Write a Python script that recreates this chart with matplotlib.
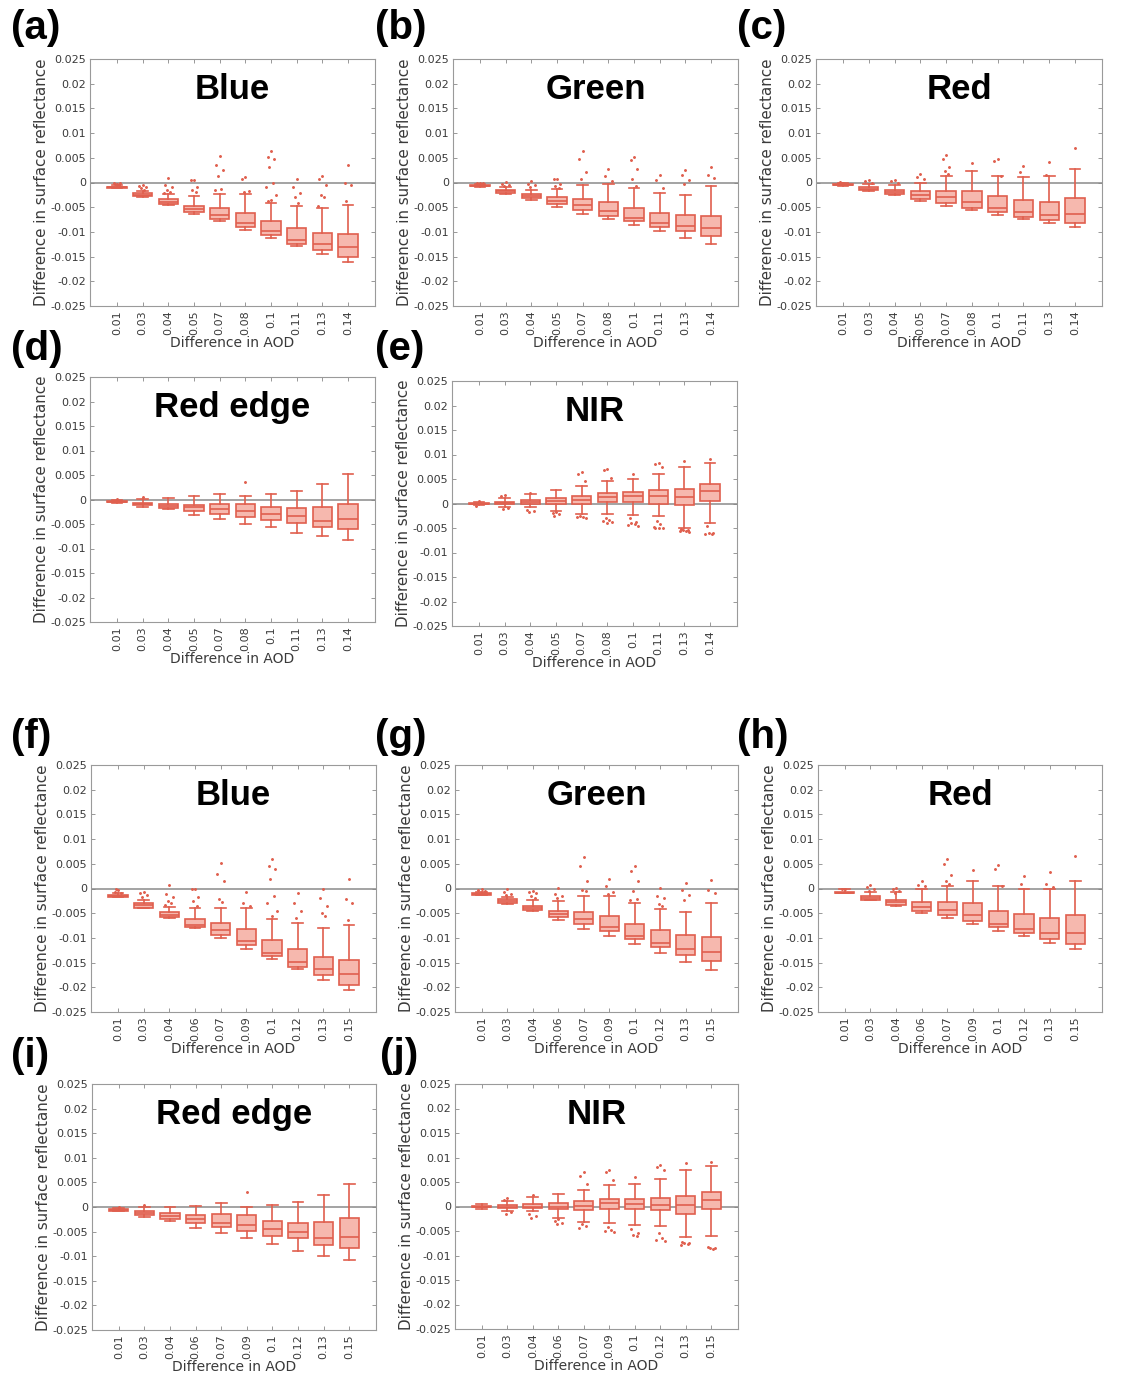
import numpy as np
import matplotlib.pyplot as plt

plt.rcParams['axes.unicode_minus'] = False
plt.rcParams['font.family'] = ['DejaVu Sans']

# x categories (difference in AOD)
aod_top = ['0.01', '0.03', '0.04', '0.05', '0.07', '0.08', '0.1', '0.11', '0.13', '0.14']
aod_bot = ['0.01', '0.03', '0.04', '0.06', '0.07', '0.09', '0.1', '0.12', '0.13', '0.15']
yticks = [0.025, 0.02, 0.015, 0.01, 0.005, 0, -0.005, -0.01, -0.015, -0.02, -0.025]

# box stats per AOD class: (lower whisker, q1, median, q3, upper whisker)
# (a) Blue
a_stats = [(-0.0012, -0.0011, -0.0010, -0.0009, -0.0006), (-0.0029, -0.0028, -0.0025, -0.0022, -0.0017),
           (-0.0046, -0.0043, -0.0039, -0.0034, -0.0023), (-0.0064, -0.0060, -0.0054, -0.0047, -0.0028),
           (-0.0078, -0.0074, -0.0066, -0.0052, -0.0024), (-0.0096, -0.0090, -0.0082, -0.0062, -0.0023),
           (-0.0112, -0.0106, -0.0099, -0.0078, -0.0042), (-0.0128, -0.0124, -0.0116, -0.0093, -0.0048),
           (-0.0144, -0.0136, -0.0125, -0.0102, -0.0052), (-0.0160, -0.0150, -0.0131, -0.0105, -0.0045)]
a_out = [[-0.0003, -0.0002, 0.0, -0.0004, -0.0005], [-0.0005, -0.0007, -0.001, -0.0012, -0.0015],
         [0.001, -0.0005, -0.001, -0.0015, -0.002, -0.0021], [0.0006, 0.0005, -0.001, -0.0015, -0.002],
         [0.0053, 0.0035, 0.0025, 0.0013, -0.0013, -0.0015], [0.0012, 0.0008, -0.0017, -0.002],
         [0.0063, 0.0052, 0.0047, 0.0031, 0.0, -0.001, -0.0025, -0.0035, -0.0038],
         [0.0007, -0.001, -0.0022, -0.003, -0.0042], [0.0014, 0.0007, -0.0005, -0.0025, -0.003, -0.0048],
         [0.0035, 0.0, -0.0005, -0.0037]]

# (b) Green
b_stats = [(-0.0009, -0.0008, -0.0007, -0.0005, -0.0003), (-0.0023, -0.0021, -0.0018, -0.0015, -0.0010),
           (-0.0035, -0.0032, -0.0028, -0.0024, -0.0015), (-0.0049, -0.0044, -0.0038, -0.0030, -0.0014),
           (-0.0063, -0.0055, -0.0046, -0.0033, -0.0005), (-0.0074, -0.0068, -0.0057, -0.0039, -0.0003),
           (-0.0086, -0.0077, -0.0072, -0.0051, -0.0011), (-0.0099, -0.0090, -0.0082, -0.0061, -0.0022),
           (-0.0112, -0.0099, -0.0089, -0.0066, -0.0026), (-0.0124, -0.0108, -0.0092, -0.0067, -0.0007)]
b_out = [[-0.0001, 0.0, -0.0002], [0.0002, -0.0003, -0.0005, -0.0007], [0.0004, -0.0003, -0.0006, -0.001],
         [0.0008, 0.0007, -0.0003, -0.0007, -0.0012], [0.0063, 0.0048, 0.0022, 0.0008],
         [0.0028, 0.0013, 0.0004], [0.0051, 0.0045, 0.0027, 0.0007, -0.0007],
         [0.0015, 0.0005, -0.0012], [0.0026, 0.0015, 0.0005, -0.0003], [0.0032, 0.0016, 0.001]]

# (c) Red
c_stats = [(-0.0007, -0.0006, -0.0005, -0.0003, -0.0002), (-0.0017, -0.0016, -0.0013, -0.0010, -0.0004),
           (-0.0026, -0.0024, -0.0020, -0.0016, -0.0005), (-0.0037, -0.0034, -0.0026, -0.0018, 0.0),
           (-0.0047, -0.0042, -0.0029, -0.0018, 0.0013), (-0.0056, -0.0051, -0.0040, -0.0018, 0.0023),
           (-0.0065, -0.0060, -0.0051, -0.0028, 0.0014), (-0.0074, -0.0070, -0.0060, -0.0035, 0.0012),
           (-0.0082, -0.0075, -0.0066, -0.0039, 0.0013), (-0.0091, -0.0081, -0.0064, -0.0032, 0.0028)]
c_out = [[0.0, 0.0001], [0.0006, 0.0003, 0.0], [0.0006, 0.0004, 0.0], [0.0018, 0.0012, 0.0008],
         [0.0056, 0.0048, 0.0031, 0.0023, 0.0017], [0.0039], [0.0048, 0.0043, 0.0014],
         [0.0034, 0.0022], [0.0042, 0.0016], [0.0069]]

# (d) Red edge
d_stats = [(-0.0007, -0.0006, -0.0005, -0.0003, -0.0002), (-0.0015, -0.0012, -0.0010, -0.0007, 0.0002),
           (-0.0020, -0.0018, -0.0013, -0.0009, 0.0003), (-0.0032, -0.0024, -0.0016, -0.0012, 0.0007),
           (-0.0040, -0.0029, -0.0020, -0.0009, 0.0012), (-0.0049, -0.0036, -0.0023, -0.0010, 0.0008),
           (-0.0057, -0.0042, -0.0029, -0.0016, 0.0012), (-0.0069, -0.0047, -0.0034, -0.0018, 0.0018),
           (-0.0075, -0.0056, -0.0044, -0.0016, 0.0032), (-0.0082, -0.0060, -0.0039, -0.0009, 0.0053)]
d_out = [[0.0001], [0.0005], [], [], [], [0.0035], [], [], [], []]

# (e) NIR
e_stats = [(-0.0004, -0.0002, 0.0, 0.0002, 0.0004), (-0.0007, -0.0002, 0.0002, 0.0004, 0.0012),
           (-0.0008, 0.0, 0.0003, 0.0008, 0.0020), (-0.0015, 0.0, 0.0006, 0.0012, 0.0028),
           (-0.0021, -0.0001, 0.0008, 0.0015, 0.0036), (-0.0021, 0.0003, 0.0013, 0.0022, 0.0046),
           (-0.0023, 0.0004, 0.0015, 0.0023, 0.0051), (-0.0025, 0.0, 0.0016, 0.0027, 0.0060),
           (-0.0050, -0.0003, 0.0014, 0.0030, 0.0074), (-0.0040, 0.0006, 0.0025, 0.0039, 0.0082)]
e_out = [[0.0005, -0.0005], [0.0018, 0.0015, -0.001, -0.0012],
         [0.0022, -0.0013, -0.0015, -0.0018], [-0.0018, -0.002, -0.0022, -0.0025],
         [0.0065, 0.006, 0.0045, -0.0025, -0.0027, -0.0028, -0.003],
         [0.007, 0.0068, 0.0053, -0.003, -0.0033, -0.0035, -0.0037, -0.0039],
         [0.006, -0.003, -0.0038, -0.004, -0.0042, -0.0044, -0.0045],
         [0.0082, 0.008, 0.0075, -0.0035, -0.0042, -0.0048, -0.0049, -0.005, -0.0051],
         [0.0086, -0.0052, -0.0054, -0.0055, -0.0056, -0.0057, -0.0058],
         [0.009, -0.0045, -0.006, -0.0061, -0.0062, -0.0063]]

# (f) Blue
f_stats = [(-0.0017, -0.0017, -0.0015, -0.0013, -0.0010), (-0.0039, -0.0039, -0.0034, -0.0030, -0.0023),
           (-0.0059, -0.0058, -0.0054, -0.0048, -0.0037), (-0.0080, -0.0077, -0.0073, -0.0062, -0.0040),
           (-0.0100, -0.0095, -0.0084, -0.0070, -0.0039), (-0.0122, -0.0115, -0.0106, -0.0082, -0.0039),
           (-0.0143, -0.0137, -0.0130, -0.0105, -0.0061), (-0.0163, -0.0158, -0.0149, -0.0122, -0.0070),
           (-0.0185, -0.0176, -0.0163, -0.0138, -0.0080), (-0.0206, -0.0195, -0.0174, -0.0145, -0.0073)]
f_out = [[-0.0004, -0.0007, -0.0009, 0.0], [-0.0008, -0.001, -0.0013, -0.0017],
         [0.0007, -0.0012, -0.0018, -0.0025, -0.003, -0.0033], [0.0, -0.0002, -0.0018, -0.0025, -0.0035],
         [0.0052, 0.003, 0.0015, -0.0022, -0.0028], [-0.0008, -0.003, -0.0035],
         [0.006, 0.0045, 0.0039, 0.002, -0.0015, -0.003, -0.0045, -0.0055],
         [-0.001, -0.003, -0.0045, -0.006], [0.0, -0.002, -0.0035, -0.005, -0.0055],
         [0.0019, -0.0022, -0.003, -0.0063]]

# (g) Green
g_stats = [(-0.0013, -0.0013, -0.0012, -0.0010, -0.0008), (-0.0031, -0.0029, -0.0025, -0.0022, -0.0017),
           (-0.0046, -0.0044, -0.0040, -0.0035, -0.0023), (-0.0064, -0.0058, -0.0052, -0.0045, -0.0025),
           (-0.0081, -0.0072, -0.0062, -0.0048, -0.0016), (-0.0097, -0.0087, -0.0077, -0.0056, -0.0016),
           (-0.0113, -0.0103, -0.0096, -0.0071, -0.0029), (-0.0130, -0.0118, -0.0110, -0.0084, -0.0042),
           (-0.0148, -0.0134, -0.0123, -0.0094, -0.0048), (-0.0165, -0.0147, -0.0128, -0.0098, -0.0030)]
g_out = [[-0.0002, -0.0004, -0.0005], [-0.0002, -0.0008, -0.0011, -0.0013],
         [-0.0005, -0.0008, -0.001, -0.0015, -0.002], [0.0001, -0.0012, -0.0015, -0.0019],
         [0.0063, 0.0045, 0.0015, -0.0003, -0.0005], [0.0019, 0.0005, -0.0007, -0.0012],
         [0.0045, 0.0036, 0.0016, -0.0006, -0.0022, -0.0024], [0.0001, -0.0015, -0.002, -0.0032, -0.0035],
         [0.0011, -0.0003, -0.0014, -0.0023], [0.0017, -0.0003, -0.0009]]

# (h) Red
h_stats = [(-0.0010, -0.0010, -0.0009, -0.0007, -0.0002), (-0.0024, -0.0024, -0.0019, -0.0016, -0.0008),
           (-0.0035, -0.0033, -0.0027, -0.0024, -0.0007), (-0.0049, -0.0045, -0.0037, -0.0028, -0.0002),
           (-0.0060, -0.0054, -0.0044, -0.0028, 0.0006), (-0.0072, -0.0066, -0.0054, -0.0030, 0.0016),
           (-0.0086, -0.0078, -0.0071, -0.0045, 0.0005), (-0.0097, -0.0091, -0.0081, -0.0052, 0.0),
           (-0.0110, -0.0103, -0.0091, -0.0060, 0.0), (-0.0123, -0.0112, -0.0091, -0.0053, 0.0015)]
h_out = [[0.0, -0.0001], [0.0007, 0.0004, -0.0002, -0.0005], [0.0002, -0.0001, -0.0005, -0.0009],
         [0.0015, 0.0008, 0.0005], [0.006, 0.005, 0.0028, 0.0016, 0.001], [0.0037],
         [0.0047, 0.004, 0.0006], [0.0026, 0.001], [0.0034, 0.0009, 0.0004], [0.0066]]

# (i) Red edge
i_stats = [(-0.0009, -0.0008, -0.0006, -0.0004, -0.0002), (-0.0021, -0.0016, -0.0012, -0.0009, 0.0),
           (-0.0029, -0.0025, -0.0018, -0.0013, 0.0), (-0.0043, -0.0032, -0.0025, -0.0017, 0.0003),
           (-0.0053, -0.0040, -0.0032, -0.0015, 0.0008), (-0.0064, -0.0049, -0.0036, -0.0017, 0.0001),
           (-0.0075, -0.0058, -0.0045, -0.0028, 0.0005), (-0.0089, -0.0064, -0.0050, -0.0032, 0.0010),
           (-0.0099, -0.0077, -0.0064, -0.0031, 0.0024), (-0.0108, -0.0084, -0.0060, -0.0022, 0.0047)]
i_out = [[0.0], [0.0005], [], [], [], [0.003], [], [], [], []]

# (j) NIR
j_stats = [(-0.0006, -0.0002, 0.0, 0.0002, 0.0005), (-0.0009, -0.0003, 0.0, 0.0003, 0.0012),
           (-0.0010, -0.0004, 0.0, 0.0005, 0.0019), (-0.0024, -0.0005, 0.0, 0.0007, 0.0026),
           (-0.0031, -0.0007, 0.0002, 0.0011, 0.0034), (-0.0033, -0.0005, 0.0007, 0.0016, 0.0043),
           (-0.0037, -0.0005, 0.0005, 0.0016, 0.0046), (-0.0040, -0.0008, 0.0004, 0.0018, 0.0057),
           (-0.0062, -0.0016, 0.0003, 0.0022, 0.0075), (-0.0060, -0.0006, 0.0014, 0.0030, 0.0082)]
j_out = [[], [0.0017, 0.0014, -0.0012, -0.0015], [0.0024, -0.0015, -0.002, -0.0024],
         [-0.0026, -0.003, -0.0033, -0.0035], [0.007, 0.0062, 0.0045, -0.0035, -0.0039, -0.0043],
         [0.0074, 0.007, 0.0055, -0.0042, -0.0048, -0.0051, -0.0053],
         [0.006, -0.0045, -0.0055, -0.0058, -0.006],
         [0.0085, 0.0081, 0.0075, -0.0055, -0.0065, -0.0068, -0.007],
         [0.0088, -0.0072, -0.0074, -0.0075, -0.0077, -0.0078],
         [0.0091, -0.0083, -0.0084, -0.0085, -0.0086]]

W, H = 1122, 1385
edge = '#e05f4e'
fill = '#f6b8ae'
txt = '#3a3a3a'
# small horizontal spread for the outlier dots, cycled per box
spread = [0.0, -0.13, 0.13, -0.06, 0.07, -0.18, 0.18]

# label, band, x labels, stats, outliers, axes box (l, t, r, b) px, label pos (x, y) px
panels = [
    ('(a)', 'Blue', aod_top, a_stats, a_out, (90, 59, 375, 306), (11, 28)),
    ('(b)', 'Green', aod_top, b_stats, b_out, (453, 59, 738, 306), (375, 28)),
    ('(c)', 'Red', aod_top, c_stats, c_out, (816, 59, 1102, 306), (737, 28)),
    ('(d)', 'Red edge', aod_top, d_stats, d_out, (90, 377, 375, 622), (11, 349)),
    ('(e)', 'NIR', aod_top, e_stats, e_out, (452, 381, 737, 626), (375, 349)),
    ('(f)', 'Blue', aod_bot, f_stats, f_out, (91, 765, 376, 1012), (11, 737)),
    ('(g)', 'Green', aod_bot, g_stats, g_out, (455, 765, 738, 1012), (375, 737)),
    ('(h)', 'Red', aod_bot, h_stats, h_out, (818, 765, 1102, 1012), (737, 737)),
    ('(i)', 'Red edge', aod_bot, i_stats, i_out, (92, 1084, 376, 1330), (11, 1056)),
    ('(j)', 'NIR', aod_bot, j_stats, j_out, (455, 1084, 738, 1329), (380, 1056)),
]

fig = plt.figure(figsize=(W / 100, H / 100), dpi=100)

for lab, band, xl, stats, outs, (l, t, r, b), (lx, ly) in panels:
    ax = fig.add_axes([l / W, 1 - b / H, (r - l) / W, (b - t) / H])
    pos = list(range(1, len(stats) + 1))
    bx = [dict(whislo=s[0], q1=s[1], med=s[2], q3=s[3], whishi=s[4], fliers=[])
          for s in stats]
    ax.axhline(0, color='#8a8a8a', lw=1.1, zorder=0)
    ax.bxp(bx, positions=pos, widths=0.75, capwidths=0.42, showfliers=False,
           patch_artist=True,
           boxprops=dict(facecolor=fill, edgecolor=edge, lw=1.2),
           medianprops=dict(color=edge, lw=1.2),
           whiskerprops=dict(color=edge, lw=1.2, linestyle='-'),
           capprops=dict(color=edge, lw=1.2))
    for p, o in zip(pos, outs):
        xs = [p + spread[k % len(spread)] for k in range(len(o))]
        ax.plot(xs, o, linestyle='none', marker='.', markersize=2.2, color=edge)
    ax.set_xlim(-0.05, 11.05)
    ax.set_ylim(-0.025, 0.025)
    ax.set_xticks(pos)
    ax.set_xticklabels(xl, rotation=90, fontsize=8, color=txt)
    ax.set_yticks(yticks)
    ax.set_yticklabels([f'{round(v, 3):g}' for v in yticks], fontsize=8, color=txt)
    ax.tick_params(direction='in', top=True, right=True, length=3, width=0.6,
                   color='#888888', pad=3)
    for s in ax.spines.values():
        s.set_color('#9a9a9a')
        s.set_linewidth(0.8)
    ax.set_xlabel('Difference in AOD', fontsize=10, color=txt, labelpad=1)
    ax.set_ylabel('Difference in surface reflectance', fontsize=10.9, color=txt, labelpad=1)
    ax.text(0.5, 0.875, band, transform=ax.transAxes, ha='center', va='center',
            fontsize=25, fontweight='bold', family='Liberation Sans')
    fig.text(lx / W, 1 - ly / H, lab, ha='left', va='center', fontsize=29,
             fontweight='bold', family='Liberation Sans')

fig.savefig('out.png', dpi=100)
